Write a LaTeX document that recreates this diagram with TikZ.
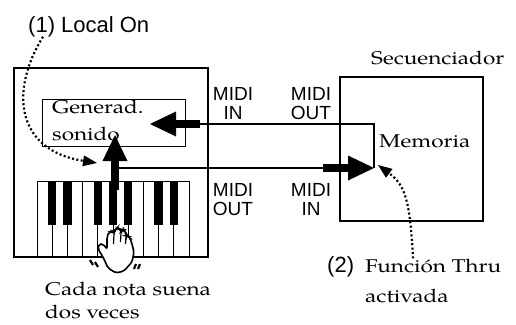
\documentclass[tikz,border=0pt]{standalone}
\usepackage{fontspec}
\setmainfont{texgyrepagella-regular.otf}[FakeStretch=1.22]
\setsansfont{Liberation Sans}
\usetikzlibrary{arrows.meta}

\begin{document}
\begin{tikzpicture}[x=1pt, y=-1pt,
    box/.style={draw, line width=1.5pt, inner sep=0pt, anchor=north west},
    txt/.style={inner sep=0pt, font=\fontsize{18.5}{23}\selectfont},
    midi/.style={inner sep=0pt, align=center, font=\sffamily\fontsize{19}{19}\selectfont},
    tag/.style={inner sep=0pt, font=\sffamily\fontsize{22}{26}\selectfont},
    wire/.style={line width=1.6pt},
    fat/.style={line width=8pt, -{Triangle[length=26pt,width=25pt,line width=0pt]}},
    dotline/.style={line width=2.2pt, dash pattern=on 2pt off 2.4pt,
      -{Triangle[length=14pt,width=11pt,line width=0pt]}},
    whitekey/.style={draw, line width=1pt, fill=white}]
    \useasboundingbox (0,0) rectangle (516,324);

    % instrumento con teclado
    \node[box, minimum width=194pt, minimum height=189pt] (synth) at (13,67) {};
    \node[box, line width=1pt, minimum width=143pt, minimum height=47pt] (gen) at (42,99) {};
    \node[txt, anchor=base west, align=left] (gentxt) at (52,140) {Generad.\\[4pt]sonido};

    \foreach \i in {0,...,9}
        \draw[whitekey] (37+\i*15.2,181) rectangle ++(15.2,75);
    \foreach \i in {1,2,4,5,6,8,9}
        \fill (37+\i*15.2-4.2,181) rectangle ++(8.4,43.5);

    % mano
    \draw[line width=1.6pt, fill=white, rounded corners=2pt]
        (103,257) -- (98,249) -- (99,244) -- (103,244) -- (107,249) -- (107,237)
        -- (109,232) -- (112,231) -- (114,234) -- (115,230) -- (117,228) -- (120,229)
        -- (121,232) -- (122,230) -- (124,230) -- (126,233) -- (126,236) -- (128,236)
        -- (130,238) -- (132,244) -- (134,252) -- (132,262) -- (124,271) -- (116,273)
        -- (108,268) -- cycle;
    \draw[line width=1.2pt] (114,234) -- (113.5,244) (121,232) -- (120.5,242) (126,236) -- (125.5,244);
    \draw[line width=2.2pt] (90,260) -- (93,265) (95,262) -- (98,267)
        (134,269) -- (136,264) (138,269) -- (140,264);

    % secuenciador
    \node[box, line width=2pt, minimum width=143pt, minimum height=144pt] (seq) at (339,76) {};
    \node[txt, anchor=base west] (seqtxt) at (371,64) {Secuenciador};
    \node[txt, anchor=base west] (memtxt) at (379,147) {Memoria};

    % conectores MIDI
    \node[midi, anchor=base] (inA) at (233,119) {MIDI\\IN};
    \node[midi, anchor=base] (outA) at (311,119) {MIDI\\OUT};
    \node[midi, anchor=base] (outB) at (233,215) {MIDI\\OUT};
    \node[midi, anchor=base] (inB) at (311,215) {MIDI\\IN};

    \coordinate (mem) at (374,168);
    \coordinate (port) at (200,124);
    \coordinate (gentip) at (150,124);
    \coordinate (keyhit) at (115,190);
    \coordinate (sndtip) at (115,135);
    \coordinate (split) at (115,168);
    \coordinate (thruport) at (323,168);

    \draw[wire] (mem) |- (port);
    \draw[fat] (port) -- (gentip);
    \draw[wire] (split) -- (thruport);
    \draw[fat] (keyhit) -- (sndtip);
    \draw[fat] (thruport) -- (mem);

    % textos y flechas punteadas
    \node[tag, anchor=base west] (local) at (28,32) {(1) Local On};
    \node[tag, anchor=base west] (two) at (327,272) {(2)};
    \node[txt, anchor=base west, align=left] (thru) at (365,302) {Función Thru\\[7pt]activada};
    \node[txt, anchor=base west, align=left] (twice) at (45,318) {Cada nota suena\\[0pt]dos veces};

    \coordinate (localtip) at (97,163);
    \coordinate (thrutip) at (378,165);
    \draw[dotline] ([xshift=15pt]local.south west) .. controls (10,90) and (15,150) .. (localtip);
    \draw[dotline] ([xshift=48pt]thru.north west) .. controls (410,200) and (405,185) .. (thrutip);
\end{tikzpicture}
\end{document}
